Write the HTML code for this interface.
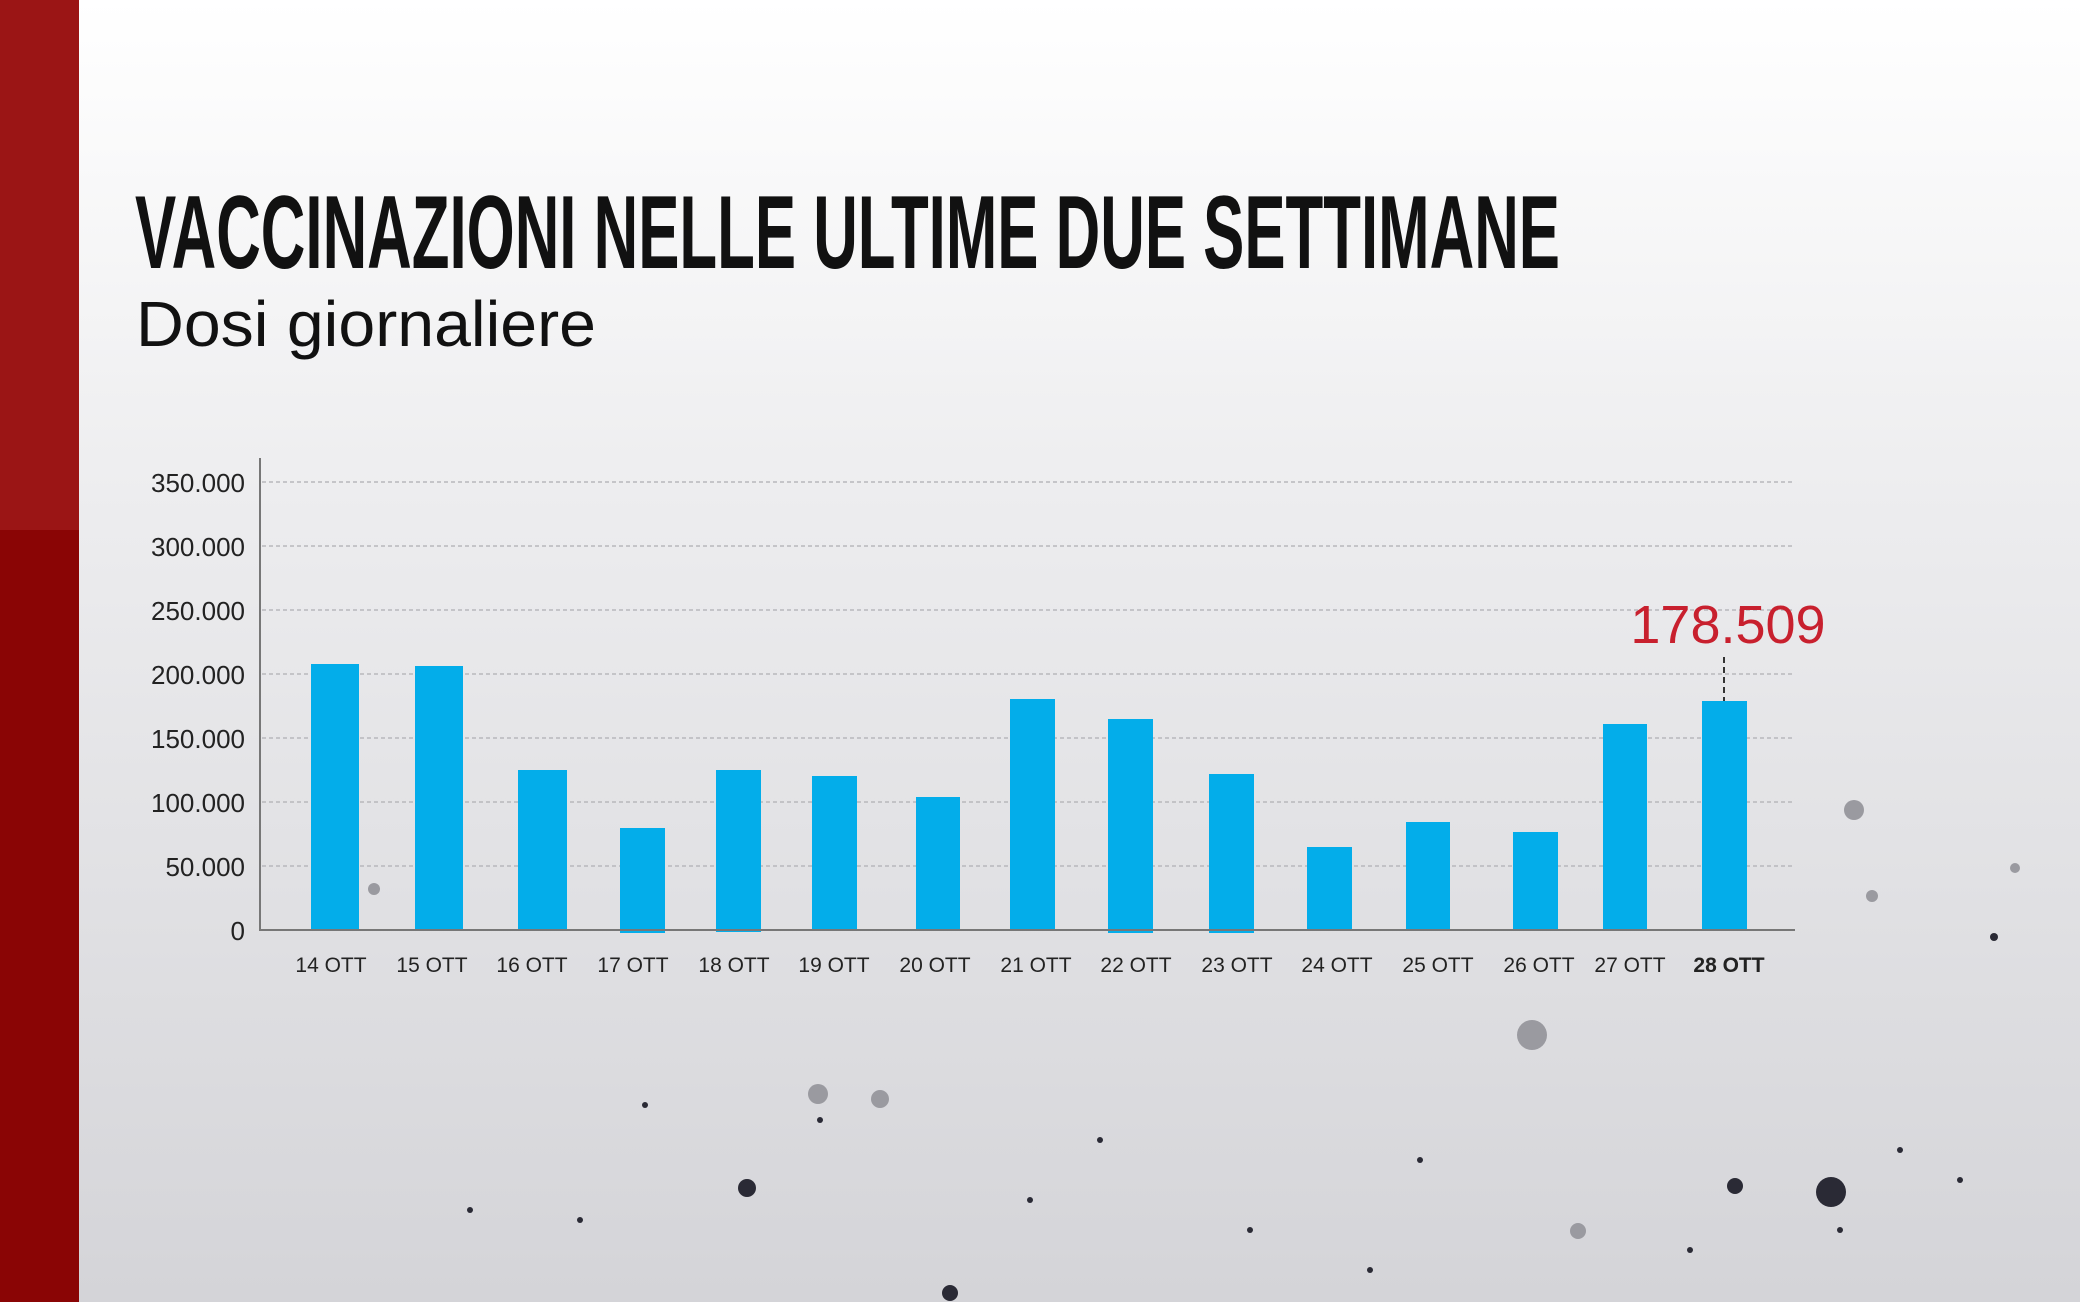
<!DOCTYPE html>
<html><head><meta charset="utf-8"><style>
html,body{margin:0;padding:0;width:2080px;height:1302px;overflow:hidden}
svg{display:block}
</style></head><body>
<svg width="2080" height="1302" viewBox="0 0 2080 1302" xmlns="http://www.w3.org/2000/svg">
<defs>
<linearGradient id="bg" x1="0" y1="0" x2="0" y2="1">
<stop offset="0" stop-color="#ffffff"/><stop offset="0.4" stop-color="#ececee"/><stop offset="1" stop-color="#d4d4d8"/>
</linearGradient>
</defs>
<rect width="2080" height="1302" fill="url(#bg)"/>
<rect x="0" y="0" width="79" height="530" fill="#9b1515"/>
<rect x="0" y="530" width="79" height="772" fill="#8a0505"/>
<text x="135" y="268" font-family="Liberation Sans, sans-serif" font-weight="bold" font-size="104" fill="#111" textLength="1425" lengthAdjust="spacingAndGlyphs">VACCINAZIONI NELLE ULTIME DUE SETTIMANE</text>
<text x="136" y="346" font-family="Liberation Sans, sans-serif" font-size="64" fill="#111" textLength="460" lengthAdjust="spacingAndGlyphs">Dosi giornaliere</text>
<g stroke="#b8b8bc" stroke-width="1.5" stroke-dasharray="4,3">
<line x1="262" y1="482" x2="1795" y2="482"/><line x1="262" y1="546" x2="1795" y2="546"/>
<line x1="262" y1="610" x2="1795" y2="610"/><line x1="262" y1="674" x2="1795" y2="674"/>
<line x1="262" y1="738" x2="1795" y2="738"/><line x1="262" y1="802" x2="1795" y2="802"/>
<line x1="262" y1="866" x2="1795" y2="866"/>
</g>
<g font-family="Liberation Sans, sans-serif" font-size="26" fill="#222" text-anchor="end">
<text x="245" y="492">350.000</text><text x="245" y="556">300.000</text><text x="245" y="620">250.000</text>
<text x="245" y="684">200.000</text><text x="245" y="748">150.000</text><text x="245" y="812">100.000</text>
<text x="245" y="876">50.000</text><text x="245" y="940">0</text>
</g>
<g fill="#03adea">
<rect x="311" y="664" width="48" height="266"/><rect x="415" y="666" width="48" height="264"/>
<rect x="518" y="770" width="49" height="160"/><rect x="620" y="828" width="45" height="105"/>
<rect x="716" y="770" width="45" height="162"/><rect x="812" y="776" width="45" height="154"/>
<rect x="916" y="797" width="44" height="133"/><rect x="1010" y="699" width="45" height="231"/>
<rect x="1108" y="719" width="45" height="214"/><rect x="1209" y="774" width="45" height="159"/>
<rect x="1307" y="847" width="45" height="83"/><rect x="1406" y="822" width="44" height="108"/>
<rect x="1513" y="832" width="45" height="98"/><rect x="1603" y="724" width="44" height="206"/>
<rect x="1702" y="701" width="45" height="229"/>
</g>
<line x1="260" y1="458" x2="260" y2="931" stroke="#777" stroke-width="2"/>
<line x1="260" y1="930" x2="1795" y2="930" stroke="#777" stroke-width="2"/>
<line x1="1724" y1="657" x2="1724" y2="701" stroke="#333" stroke-width="2" stroke-dasharray="6,4"/>
<text x="1728" y="643" font-family="Liberation Sans, sans-serif" font-size="54" fill="#c8202e" text-anchor="middle">178.509</text>
<g font-family="Liberation Sans, sans-serif" font-size="21" fill="#222" text-anchor="middle">
<text x="331" y="972">14 OTT</text><text x="432" y="972">15 OTT</text><text x="532" y="972">16 OTT</text>
<text x="633" y="972">17 OTT</text><text x="734" y="972">18 OTT</text><text x="834" y="972">19 OTT</text>
<text x="935" y="972">20 OTT</text><text x="1036" y="972">21 OTT</text><text x="1136" y="972">22 OTT</text>
<text x="1237" y="972">23 OTT</text><text x="1337" y="972">24 OTT</text><text x="1438" y="972">25 OTT</text>
<text x="1539" y="972">26 OTT</text><text x="1630" y="972">27 OTT</text>
<text x="1729" y="972" font-weight="bold">28 OTT</text>
</g>
<g fill="#2a2a35">
<circle cx="747" cy="1188" r="9"/><circle cx="1831" cy="1192" r="15"/><circle cx="1735" cy="1186" r="8"/>
<circle cx="950" cy="1293" r="8"/><circle cx="1994" cy="937" r="4"/><circle cx="1840" cy="1230" r="3"/>
<circle cx="645" cy="1105" r="3"/><circle cx="1100" cy="1140" r="3"/><circle cx="470" cy="1210" r="3"/>
<circle cx="1370" cy="1270" r="3"/><circle cx="1900" cy="1150" r="3"/><circle cx="1250" cy="1230" r="3"/>
<circle cx="820" cy="1120" r="3"/><circle cx="1420" cy="1160" r="3"/><circle cx="580" cy="1220" r="3"/>
<circle cx="1960" cy="1180" r="3"/><circle cx="1690" cy="1250" r="3"/><circle cx="1030" cy="1200" r="3"/>
</g>
<g fill="#9a9aa0">
<circle cx="1854" cy="810" r="10"/><circle cx="1532" cy="1035" r="15"/><circle cx="818" cy="1094" r="10"/>
<circle cx="880" cy="1099" r="9"/><circle cx="1578" cy="1231" r="8"/><circle cx="1872" cy="896" r="6"/>
<circle cx="374" cy="889" r="6"/><circle cx="2015" cy="868" r="5"/>
</g>
</svg>
</body></html>
